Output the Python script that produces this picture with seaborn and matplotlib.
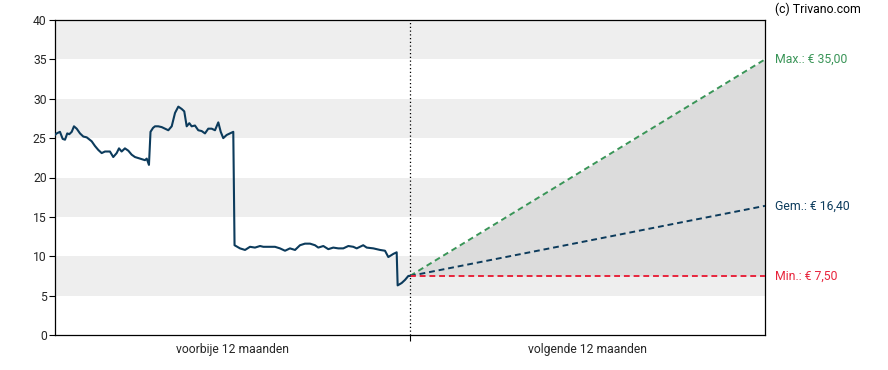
import pandas as pd
import matplotlib
matplotlib.use('Agg')
import matplotlib.pyplot as plt
import seaborn as sns

# Historical price (day index within the past 12 months, price in EUR)
hist_days = [0, 1.7, 5.1, 7.9, 10.3, 12.6, 14.7, 17.2, 19.5, 22.3, 25.7, 29.1, 32.6,
             37.7, 41.1, 44.5, 48.0, 51.4, 56.5, 59.9, 63.4, 65.8, 68.5, 71.9, 75.4,
             78.8, 82.2, 87.4, 92.5, 94.3, 96.6, 98.2, 100.8, 102.8, 106.2, 109.7,
             113.1, 116.5, 120.0, 123.4, 126.8, 130.3, 132.9, 135.4, 138.1, 140.5,
             143.9, 147.3, 150.8, 154.2, 157.6, 161.1, 164.5, 167.9, 170.4, 173.0,
             176.5, 179.9, 183.3, 184.6, 190.2, 195.4, 200.5, 205.6, 210.8, 214.2,
             219.3, 226.2, 231.3, 236.5, 241.6, 246.8, 251.9, 257.0, 262.2, 267.3,
             270.7, 275.9, 281.0, 286.1, 291.3, 296.4, 301.6, 306.7, 310.2, 316.9,
             320.5, 327.3, 334.2, 339.3, 342.7, 347.9, 351.3, 352.3, 356.4, 359.9,
             363.3, 365]
hist_price = [25.4, 25.6, 25.8, 24.9, 24.8, 25.6, 25.5, 25.8, 26.5, 26.2, 25.6, 25.2, 25.1,
              24.6, 24.0, 23.5, 23.1, 23.3, 23.3, 22.6, 23.1, 23.7, 23.3, 23.7, 23.4,
              22.9, 22.6, 22.4, 22.2, 22.4, 21.6, 25.8, 26.3, 26.5, 26.5, 26.4,
              26.2, 26.0, 26.5, 28.2, 29.0, 28.7, 28.4, 26.5, 26.9, 26.5,
              26.6, 26.0, 25.9, 25.6, 26.2, 26.2, 26.0, 27.0, 25.8, 25.0,
              25.4, 25.6, 25.8, 11.4, 11.0, 10.8, 11.2, 11.1, 11.3, 11.2,
              11.2, 11.2, 11.0, 10.7, 11.0, 10.8, 11.4, 11.6, 11.6, 11.4,
              11.1, 11.3, 10.9, 11.1, 11.0, 11.0, 11.3, 11.2, 11.0, 11.4,
              11.1, 11.0, 10.8, 10.7, 9.9, 10.3, 10.5, 6.3, 6.6, 7.0,
              7.5, 7.5]

# Analyst price targets for the next 12 months
start_price = 7.50
target_max = 35.00
target_avg = 16.40
target_min = 7.50
forecast_days = [365, 730]

y_ticks = [0, 5, 10, 15, 20, 25, 30, 35, 40]
period_labels = ['voorbije 12 maanden', 'volgende 12 maanden']

navy = '#0c3b5c'
green = '#3a9558'
red = '#e8243c'

sns.set_style('white')
plt.rcParams['font.family'] = ['Roboto', 'DejaVu Sans']

fig = plt.figure(figsize=(8.88, 3.70), dpi=100)
ax = fig.add_axes([55 / 888, 1 - 335 / 370, 710 / 888, 315 / 370])

# alternating grey bands
for lo, hi in zip(y_ticks[1::2], y_ticks[2::2]):
    ax.axhspan(lo, hi, color='#eeeeee', lw=0, zorder=0)

df_hist = pd.DataFrame({'day': hist_days, 'price': hist_price})
sns.lineplot(data=df_hist, x='day', y='price', color=navy, lw=1.5, ax=ax, zorder=4)

# forecast cone
ax.fill_between(forecast_days, [start_price, target_min], [start_price, target_max],
                color='#dcdcdc', lw=0, zorder=1)
ax.plot(forecast_days, [start_price, target_max], ls=(0, (3, 2)), color=green, lw=1.4, zorder=3)
ax.plot(forecast_days, [start_price, target_avg], ls=(0, (3, 2)), color=navy, lw=1.4, zorder=3)
ax.plot(forecast_days, [start_price, target_min], ls=(0, (3, 2)), color=red, lw=1.4, zorder=3)

ax.axvline(365, color='black', ls=(0, (1, 2)), lw=0.9, zorder=2)

ax.set_xlim(0, 730)
ax.set_ylim(0, 40)
ax.set_yticks(y_ticks)
ax.set_xticks([365])
ax.set_xticklabels([''])
ax.set_xticks([182.5, 547.5], minor=True)
ax.set_xticklabels(period_labels, minor=True)
ax.tick_params(axis='x', which='major', length=4, width=0.8, color='black', direction='out', bottom=True)
ax.tick_params(axis='x', which='minor', length=0, labelsize=8.7, pad=6)
ax.tick_params(axis='y', length=4, width=0.8, color='black', direction='out', left=True, labelsize=8.7, pad=2)
ax.set_xlabel('')
ax.set_ylabel('')
for s in ax.spines.values():
    s.set_color('black')
    s.set_linewidth(0.9)

# target labels right of the plot
for val, name, col in [(target_max, 'Max.', green), (target_avg, 'Gem.', navy), (target_min, 'Min.', red)]:
    label = f'{name}: € ' + f'{val:.2f}'.replace('.', ',')
    ax.annotate(label, xy=(730, val), xytext=(7, 0), textcoords='offset points',
                va='center', ha='left', color=col, fontsize=8.8, annotation_clip=False)

fig.text(775 / 888, 1 - 9 / 370, '(c) Trivano.com', ha='left', va='center', fontsize=8.8, color='black')

fig.savefig('out.png', dpi=100)
